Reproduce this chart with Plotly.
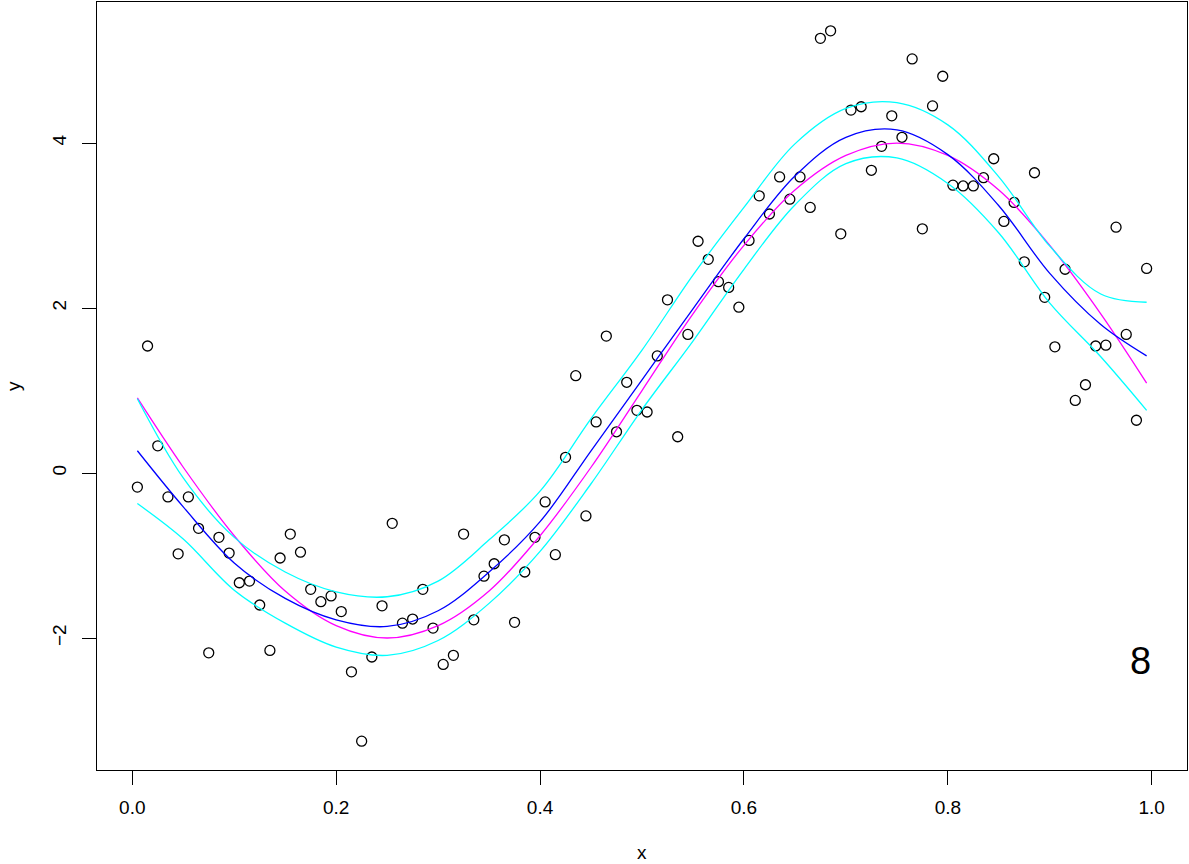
import plotly.graph_objects as go

# Observations: 100 equally spaced x values with noisy y
x_obs = [0.005 + 0.01 * i for i in range(100)]
y_obs = [
    -0.17, 1.54, 0.33, -0.29, -0.98, -0.29, -0.67, -2.18, -0.78, -0.97,
    -1.33, -1.31, -1.60, -2.15, -1.03, -0.74, -0.96, -1.41, -1.56, -1.49,
    -1.68, -2.41, -3.25, -2.23, -1.61, -0.61, -1.82, -1.77, -1.41, -1.88,
    -2.32, -2.21, -0.74, -1.78, -1.25, -1.10, -0.81, -1.81, -1.20, -0.78,
    -0.35, -0.99, 0.19, 1.18, -0.52, 0.62, 1.66, 0.50, 1.10, 0.76,
    0.74, 1.42, 2.10, 0.44, 1.68, 2.81, 2.59, 2.32, 2.25, 2.01,
    2.82, 3.36, 3.14, 3.59, 3.32, 3.59, 3.22, 5.27, 5.36, 2.90,
    4.40, 4.44, 3.67, 3.96, 4.33, 4.07, 5.02, 2.96, 4.45, 4.81,
    3.49, 3.48, 3.48, 3.58, 3.81, 3.05, 3.28, 2.56, 3.64, 2.13,
    1.53, 2.47, 0.88, 1.07, 1.54, 1.55, 2.98, 1.68, 0.64, 2.48,
]

# Curve grid
x_grid = [0.005, 0.05, 0.10, 0.15, 0.20, 0.25, 0.30, 0.35, 0.40, 0.45, 0.50,
          0.55, 0.60, 0.65, 0.70, 0.75, 0.80, 0.85, 0.90, 0.95, 0.995]

# True mean curve
y_true = [0.91, 0.07, -0.76, -1.43, -1.85, -2.00, -1.85, -1.43, -0.76, 0.07, 1.00,
          1.93, 2.76, 3.43, 3.85, 4.00, 3.85, 3.43, 2.76, 1.93, 1.09]

# Fitted curve (8 degrees of freedom) and its pointwise bands
y_fit = [0.27, -0.41, -1.09, -1.52, -1.78, -1.86, -1.67, -1.20, -0.59, 0.27, 1.13,
         1.99, 2.84, 3.60, 4.07, 4.16, 3.86, 3.24, 2.42, 1.80, 1.42]
y_upper = [0.90, -0.06, -0.78, -1.20, -1.44, -1.50, -1.31, -0.81, -0.22, 0.66, 1.49,
           2.40, 3.22, 3.99, 4.42, 4.49, 4.22, 3.59, 2.75, 2.17, 2.07]
y_lower = [-0.37, -0.80, -1.42, -1.82, -2.11, -2.21, -2.03, -1.58, -0.95, -0.13, 0.77,
           1.60, 2.47, 3.25, 3.75, 3.82, 3.51, 2.91, 2.06, 1.41, 0.76]

df_label = "8"

x_ticks = [0.0, 0.2, 0.4, 0.6, 0.8, 1.0]
x_tick_text = ["0.0", "0.2", "0.4", "0.6", "0.8", "1.0"]
y_ticks = [-2, 0, 2, 4]
y_tick_text = ["\u22122", "0", "2", "4"]

FONT = "Liberation Sans"

fig = go.Figure()

fig.add_trace(go.Scatter(
    x=x_obs, y=y_obs, mode="markers",
    marker=dict(symbol="circle-open", size=10, color="black",
                line=dict(width=1.3, color="black")),
    showlegend=False, hoverinfo="skip",
))

for ys, col in [(y_true, "#FF00FF"), (y_fit, "#0000FF"),
                (y_upper, "#00FFFF"), (y_lower, "#00FFFF")]:
    fig.add_trace(go.Scatter(
        x=x_grid, y=ys, mode="lines",
        line=dict(color=col, width=1.3, shape="spline", smoothing=1.0),
        showlegend=False, hoverinfo="skip",
    ))

axis_common = dict(
    showgrid=False, zeroline=False, showline=True, mirror=True,
    linecolor="black", linewidth=1,
    ticks="outside", ticklen=14, tickwidth=1, tickcolor="black",
    tickfont=dict(family=FONT, size=19, color="black"),
)

fig.update_xaxes(range=[-0.0346, 1.0346], tickvals=x_ticks, ticktext=x_tick_text,
                 ticklabelstandoff=6, **axis_common)
fig.update_yaxes(range=[-3.6, 5.71], tickvals=y_ticks, ticktext=y_tick_text,
                 tickangle=-90, ticklabelstandoff=8, **axis_common)

fig.add_annotation(x=0.989, y=-2.28, xref="x", yref="y", text=df_label,
                   showarrow=False, xanchor="center", yanchor="middle",
                   font=dict(family=FONT, size=38, color="black"))
fig.add_annotation(x=0.5, y=-0.1068, xref="paper", yref="paper", text="x",
                   showarrow=False, xanchor="center", yanchor="middle",
                   font=dict(family=FONT, size=19, color="black"))
fig.add_annotation(x=-0.077, y=0.5, xref="paper", yref="paper", text="y",
                   showarrow=False, xanchor="center", yanchor="middle", textangle=-90,
                   font=dict(family=FONT, size=19, color="black"))

fig.update_layout(
    width=1189, height=864,
    margin=dict(l=97, r=2, t=2, b=94),
    paper_bgcolor="white", plot_bgcolor="white",
)

fig.write_html("out.html")
